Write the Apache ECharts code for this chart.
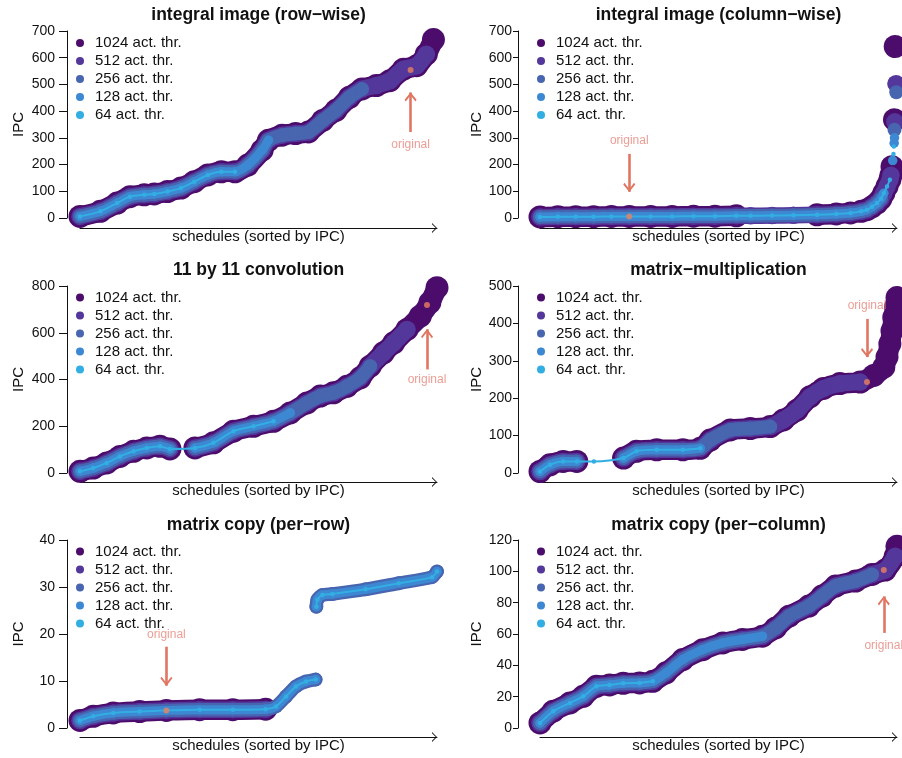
<!DOCTYPE html>
<html><head><meta charset="utf-8">
<script src="https://cdn.jsdelivr.net/npm/echarts@6/dist/echarts.min.js"></script>
<style>html,body{margin:0;padding:0;background:#fff}#c{width:902px;height:758px}</style>
</head><body><div id="c"></div>
<script>
// ---------- data ----------
const threadNames = ['1024 act. thr.', '512 act. thr.', '256 act. thr.', '128 act. thr.', '64 act. thr.'];
const panelTitles = ['integral image (row\u2212wise)', 'integral image (column\u2212wise)', '11 by 11 convolution',
  'matrix\u2212multiplication', 'matrix copy (per\u2212row)', 'matrix copy (per\u2212column)'];
const yMax = [700, 700, 800, 500, 40, 120];
const yStep = [100, 100, 200, 100, 10, 20];
const xName = 'schedules (sorted by IPC)';
const yName = 'IPC';

// integral image (row-wise)
const rowX = [0, 5.7, 10.4, 14, 18, 20.8, 24.5, 28.3, 32, 35.8, 39.6, 43.4, 47, 51, 52.8, 56.6, 60.4, 64, 68, 71.7, 75.5, 79, 83, 86.8, 90.6, 94.3, 97, 99];
const rowY = [6, 25, 56, 80, 87, 90, 99, 112, 136, 161, 173, 173, 198, 254, 291, 310, 316, 322, 365, 403, 452, 483, 496, 514, 557, 570, 613, 668];
const rowSpans = [[[0, 100]], [[0, 97.5]], [[0, 80]], [[0, 53]], [[0, 45]]];
const rowExtra = [[], [], [], [], []];
const rowOrig = [92.6, 554];
const rowArrow = [322, 470];
const rowLabel = 274;

// integral image (column-wise)
const colX = [0, 5, 10, 15, 20, 25, 31, 37, 43, 49, 55, 59, 65, 71, 77.6, 83, 87, 90, 91.6, 93, 94.4, 95.5, 96.3, 97.2, 98, 98.3];
const colY = [4, 5, 5, 5, 6, 6, 6, 6, 7, 7, 8, 8, 9, 10, 12, 15, 19, 25, 31, 42, 56, 72, 93, 118, 143, 160];
const colSpans = [[[0, 56], [73, 100]], [[0, 100]], [[0, 96]], [[0, 97]], [[0, 98]]];
const colExtra = [[[98.6, 192], [99.3, 368], [99.5, 642]], [[99.4, 360], [99.7, 503]], [[99.3, 330], [99.8, 471]],
  [[98.8, 215], [99.2, 280], [99.3, 300]], [[99, 240], [99.1, 268]]];
const colOrig = [25, 6];
const colArrow = [240, 98];
const colLabel = 289;

// 11 by 11 convolution
const convX = [0, 3.7, 7.5, 11.2, 15, 18.7, 22.4, 25.2, 32.2, 37.4, 43, 48.6, 54.2, 58.9, 63.6, 67.3, 71, 74.8, 78.5, 81.3, 85, 87.9, 91.6, 95.3, 98, 100];
const convY = [7, 21, 43, 71, 93, 107, 114, 103, 107, 129, 179, 200, 221, 257, 300, 329, 343, 371, 407, 457, 514, 557, 614, 671, 729, 793];
const convSpans = [[[0, 25.5], [32, 100]], [[0, 25.5], [32, 92]], [[0, 25.5], [32, 82]], [[0, 25.5], [32, 60]], [[0, 57]]];
const convExtra = [[], [], [], [], []];
const convOrig = [97.2, 719];
const convArrow = [443, 615];
const convLabel = 399;

// matrix-multiplication
const mmX = [0, 2.8, 6.5, 10.3, 15.1, 23.4, 27, 32.7, 40, 44.9, 47.7, 53.3, 58.9, 64.5, 68.2, 72, 75.7, 79.4, 84, 89.7, 93.5, 96.3, 97.2, 98, 98.6, 99.1, 99.6, 100];
const mmY = [4, 22, 31, 31, 31, 40, 58, 62, 62, 66, 88, 115, 119, 124, 142, 168, 204, 226, 239, 243, 261, 283, 310, 345, 380, 416, 445, 469];
const mmSpans = [[[0, 11], [23, 100]], [[0, 11], [23, 91]], [[0, 11], [23, 66]], [[0, 11], [23, 45]], [[0, 45]]];
const mmExtra = [[], [], [], [], []];
const mmOrig = [91.6, 243];
const mmArrow = [412, 310];
const mmLabel = 447;

// matrix copy (per-row)
const prX = [0, 3.7, 9.3, 16.7, 24.2, 33.5, 42.8, 52, 54.9, 57.7, 60.5, 63.3, 66, 66.2, 66.5, 67.9, 70.7, 80, 89.3, 98.6, 100];
const prY = [1.6, 2.5, 3.2, 3.5, 3.75, 3.9, 3.9, 4.0, 4.6, 6.7, 8.85, 9.9, 10.3, 25.8, 27.3, 28.3, 28.5, 29.5, 30.8, 32.1, 33.3];
const prSpans = [[[0, 54]], [[0, 54]], [[0, 66], [66.2, 100]], [[0, 66], [66.2, 100]], [[0, 66], [66.2, 100]]];
const prExtra = [[], [], [], [], []];
const prOrig = [24.2, 3.75];
const prArrow = [17.3, 9.0];
const prLabel = 19.85;

// matrix copy (per-column)
const pcX = [0, 3.7, 8.4, 12.1, 15.8, 19.5, 23.3, 27.9, 31.6, 35.3, 40, 45.6, 51.2, 56.7, 62.3, 66, 69.8, 75.3, 79, 82.8, 88.4, 93, 96.7, 99.5, 100];
const pcY = [3.2, 10.7, 16, 20.2, 26.6, 27.5, 28.5, 28.8, 29.8, 35.2, 43.7, 50, 54.3, 56.5, 58.6, 63.9, 71.4, 77.8, 84.2, 90.6, 93.8, 98, 100.8, 109.7, 116];
const pcSpans = [[[0, 100]], [[0, 99.6]], [[0, 93]], [[0, 63]], [[0, 32]]];
const pcExtra = [[], [], [], [], []];
const pcOrig = [96.3, 100.8];
const pcArrow = [60.7, 84];
const pcLabel = 52.5;

// ---------- layout / style ----------
const panels = [
  [rowX, rowY, rowSpans, rowExtra, rowOrig, rowArrow, rowLabel],
  [colX, colY, colSpans, colExtra, colOrig, colArrow, colLabel],
  [convX, convY, convSpans, convExtra, convOrig, convArrow, convLabel],
  [mmX, mmY, mmSpans, mmExtra, mmOrig, mmArrow, mmLabel],
  [prX, prY, prSpans, prExtra, prOrig, prArrow, prLabel],
  [pcX, pcY, pcSpans, pcExtra, pcOrig, pcArrow, pcLabel]
];
const layerColors = ['#4b0c6b', '#54379a', '#4865b0', '#3d88d2', '#33aee3'];
const layerWidths = [20.5, 16.5, 13.5, 9, 2];
const layerSymbols = [23, 17.5, 14, 9.5, 4.5];
const gridLeft = [80, 540], gridW = 357;
const gridTop = [31, 286, 540], gridH = [187, 187, 188];
const yOff = [13, 22], xOff = [10, 9, 9];
const tickLen = [8, 5], labMargin = [12, 6], nameGapY = [41, 29];
const legendLeft = [76, 537], legendTop = [35.5, 290, 544];
const titleTop = [5, 260, 515];
const origColor = '#e8805f', arrowColor = '#e07562', labelColor = '#e6867a';
const FONT = 'Liberation Sans';
const chevron = 'path://M50,0 L50,1 M50,50 L100,100 L88,100 L50,62 L12,100 L0,100 Z';
const arrowHead = 'path://M50,0 L50,1 M50,50 L100,94 L90,103 L50,67 L10,103 L0,94 Z';

function buildLayer(xs, ys, spans, extra) {
  const out = [];
  let prev = -1;
  for (let i = 0; i < xs.length; i++) {
    const s = spans.findIndex(sp => xs[i] >= sp[0] && xs[i] <= sp[1]);
    if (s < 0) continue;
    if (prev >= 0 && s !== prev) out.push([xs[i], null]);
    out.push([xs[i], ys[i]]);
    prev = s;
  }
  extra.forEach(p => { out.push([p[0], null]); out.push([p[0], p[1]]); });
  return out;
}

const option = {
  animation: false,
  backgroundColor: '#fff',
  textStyle: { fontFamily: FONT },
  title: [], legend: [], grid: [], xAxis: [], yAxis: [], series: []
};

panels.forEach((p, i) => {
  const c = i % 2, r = Math.floor(i / 2);
  const [xs, ys, spans, extra, orig, arrow, labY] = p;
  option.grid.push({ left: gridLeft[c], top: gridTop[r], width: gridW, height: gridH[r], containLabel: false });
  option.title.push({
    text: panelTitles[i], left: gridLeft[c] + gridW / 2, top: titleTop[r], textAlign: 'center', padding: 0,
    textStyle: { fontSize: 17.5, fontWeight: 'bold', color: '#111', fontFamily: FONT, lineHeight: 20 }
  });
  option.legend.push({
    data: threadNames, orient: 'vertical', left: legendLeft[c], top: legendTop[r], padding: 0,
    icon: 'circle', itemWidth: 8, itemHeight: 8, itemGap: 3, selectedMode: false,
    textStyle: { fontSize: 15, color: '#111', lineHeight: 15, padding: [0, 0, 0, 6], fontFamily: FONT }
  });
  option.xAxis.push({
    type: 'value', gridIndex: i, min: 0, max: 100, offset: xOff[r],
    axisLine: { show: true, onZero: false, symbol: ['none', chevron], symbolSize: [10, 17], lineStyle: { color: '#111', width: 1 } },
    axisTick: { show: false }, axisLabel: { show: false }, splitLine: { show: false },
    name: xName, nameLocation: 'middle', nameGap: 1,
    nameTextStyle: { fontSize: 15, color: '#111', fontFamily: FONT }
  });
  option.yAxis.push({
    type: 'value', gridIndex: i, min: 0, max: yMax[i], interval: yStep[i], offset: yOff[c],
    axisLine: { show: true, onZero: false, lineStyle: { color: '#111', width: 1 } },
    axisTick: { show: true, length: tickLen[c], lineStyle: { color: '#111', width: 1 } },
    axisLabel: { fontSize: 14, color: '#111', margin: labMargin[c], fontFamily: FONT },
    splitLine: { show: false },
    name: yName, nameLocation: 'middle', nameGap: nameGapY[c],
    nameTextStyle: { fontSize: 15, color: '#111', fontFamily: FONT }
  });
  threadNames.forEach((nm, t) => {
    option.series.push({
      type: 'line', name: nm, xAxisIndex: i, yAxisIndex: i, clip: false, z: 10 + t,
      data: buildLayer(xs, ys, spans[t], extra[t]),
      showSymbol: true, showAllSymbol: true, symbol: 'circle', symbolSize: layerSymbols[t],
      connectNulls: false, smooth: 0.25,
      itemStyle: { color: layerColors[t], borderWidth: 0 },
      lineStyle: { color: layerColors[t], width: layerWidths[t], cap: 'round', join: 'round' },
      emphasis: { disabled: true }, silent: true
    });
  });
  option.series.push({
    type: 'scatter', name: 'original', xAxisIndex: i, yAxisIndex: i, clip: false, silent: true, z: 20,
    data: [orig], symbol: 'circle', symbolSize: 6, itemStyle: { color: origColor },
    markLine: {
      silent: true, symbol: ['none', arrowHead], symbolSize: [12, 18], animation: false,
      lineStyle: { color: arrowColor, width: 2.6, type: 'solid' }, label: { show: false },
      emphasis: { disabled: true },
      data: [[{ coord: [orig[0], arrow[0]] }, { coord: [orig[0], arrow[1]] }]]
    }
  });
  option.series.push({
    type: 'scatter', name: 'original label', xAxisIndex: i, yAxisIndex: i, clip: false, silent: true, z: 20,
    data: [[orig[0], labY]], symbolSize: 0,
    label: { show: true, position: 'inside', formatter: 'original', fontSize: 12, color: labelColor, fontFamily: FONT }
  });
});

const chart = echarts.init(document.getElementById('c'), null, { renderer: 'canvas' });
chart.setOption(option);
</script>
</body></html>
